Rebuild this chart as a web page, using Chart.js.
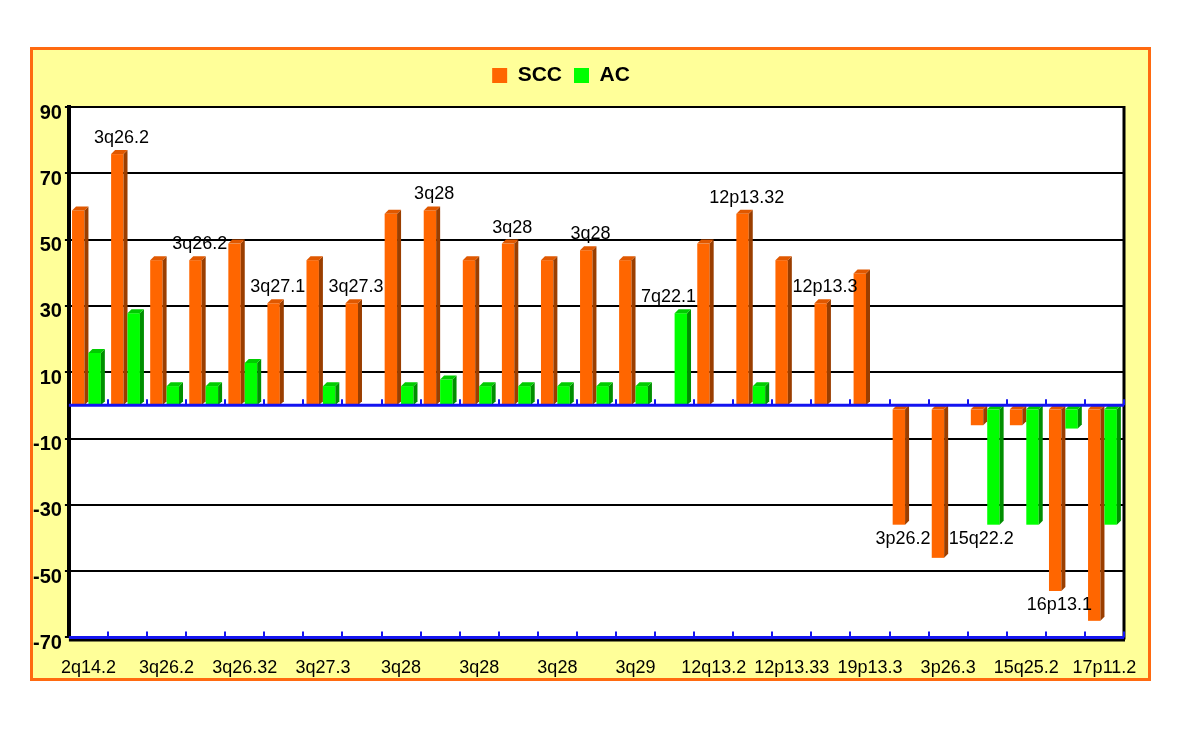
<!DOCTYPE html>
<html>
<head>
<meta charset="utf-8">
<script src="https://cdn.jsdelivr.net/npm/chart.js@4.4.1/dist/chart.umd.min.js"></script>
<style>
html,body{margin:0;padding:0;background:#ffffff;}
#wrap{width:1200px;height:733px;position:relative;}
</style>
</head>
<body>
<div id="wrap"><canvas id="c" width="1200" height="733"></canvas></div>
<script>
// ---- data ----
const categories = [
  '2q14.2','3q26.2','3q26.2','3q26.2','3q26.32','3q27.1','3q27.3','3q27.3',
  '3q28','3q28','3q28','3q28','3q28','3q28','3q29','7q22.1',
  '12q13.2','12p13.32','12p13.33','12p13.3','19p13.3','3p26.2','3p26.3',
  '15q22.2','15q25.2','16p13.1','17p11.2'
];
const sccValues = [60,77,45,45,50,32,45,32,59,60,45,50,45,48,45,0,50,59,45,32,41,-36,-46,-6,-6,-56,-65];
const acValues  = [17,29,7,7,14,0,7,0,7,9,7,7,7,7,7,29,0,7,0,0,0,0,0,-36,-36,-7,-36];
const seriesNames = ['SCC','AC'];
const yMin = -70, yMax = 90, yStep = 20;

// ---- styles ----
const faceColors = ['#FF6600','#00FF00'];
const sideColors = ['#9A3E00','#008F00'];
const capColors  = ['#E05800','#00CC00'];
const FONT = '"Liberation Sans", Arial, Helvetica, sans-serif';
const DEPTH = 4;

const framePlugin = {
  id: 'frame',
  beforeDraw(chart) {
    const ctx = chart.ctx, a = chart.chartArea;
    ctx.save();
    ctx.fillStyle = '#ffffff';
    ctx.fillRect(0, 0, chart.width, chart.height);
    ctx.fillStyle = '#FFFF99';
    ctx.fillRect(31, 48, 1119, 632);
    ctx.strokeStyle = '#FF6A10';
    ctx.lineWidth = 3;
    ctx.strokeRect(31.5, 48.5, 1118, 631);
    ctx.fillStyle = '#ffffff';
    ctx.fillRect(a.left, a.top, a.right - a.left, a.bottom - a.top);
    ctx.restore();
  }
};

const legendGapPlugin = {
  id: 'legendGap',
  beforeInit(chart) {
    const orig = chart.legend.fit;
    chart.legend.fit = function () {
      orig.call(this);
      this.height += 11;
    };
  },
  afterLayout(chart) {
    chart.legend.left -= 16;
    chart.legend.right -= 16;
  }
};

const bars3dPlugin = {
  id: 'bars3d',
  afterDatasetsDraw(chart) {
    const ctx = chart.ctx;
    const a = chart.chartArea;
    const ys = chart.scales.y, xs = chart.scales.x;
    const d = DEPTH;
    ctx.save();
    chart.data.datasets.forEach((ds, di) => {
      const meta = chart.getDatasetMeta(di);
      meta.data.forEach((el, i) => {
        const v = ds.data[i];
        if (!v) return;
        const p = el.getProps(['x','y','base','width'], true);
        const L = p.x - p.width / 2, R = p.x + p.width / 2;
        const top = Math.min(p.y, p.base), bottom = Math.max(p.y, p.base);
        // front face
        ctx.fillStyle = faceColors[di];
        ctx.fillRect(L, top + d, R - d - L, bottom - top - d);
        // side
        ctx.fillStyle = sideColors[di];
        ctx.beginPath();
        ctx.moveTo(R - d, top + d);
        ctx.lineTo(R, top);
        ctx.lineTo(R, bottom - d);
        ctx.lineTo(R - d, bottom);
        ctx.closePath();
        ctx.fill();
        // cap
        ctx.fillStyle = capColors[di];
        ctx.beginPath();
        ctx.moveTo(L, top + d);
        ctx.lineTo(L + d, top);
        ctx.lineTo(R, top);
        ctx.lineTo(R - d, top + d);
        ctx.closePath();
        ctx.fill();
      });
    });

    // zero line and bottom axis (blue) with upward ticks at category boundaries
    const y0 = ys.getPixelForValue(0);
    const n = categories.length;
    const step = (a.right - a.left) / n;
    ctx.strokeStyle = '#000000';
    ctx.lineWidth = 3;
    ctx.beginPath();
    ctx.moveTo(a.left, a.bottom + 2.5);
    ctx.lineTo(a.right + 1, a.bottom + 2.5);
    ctx.moveTo(a.right, a.top - 1);
    ctx.lineTo(a.right, a.bottom + 2);
    ctx.stroke();

    ctx.strokeStyle = '#1414F0';
    ctx.lineWidth = 3;
    ctx.beginPath();
    ctx.moveTo(a.left, y0);
    ctx.lineTo(a.right, y0);
    ctx.moveTo(a.left, a.bottom);
    ctx.lineTo(a.right, a.bottom);
    ctx.stroke();
    ctx.lineWidth = 2;
    ctx.beginPath();
    for (let k = 1; k <= n; k++) {
      const xx = Math.round(a.left + k * step);
      ctx.moveTo(xx, y0);
      ctx.lineTo(xx, y0 - 6);
      ctx.moveTo(xx, a.bottom);
      ctx.lineTo(xx, a.bottom - 6);
    }
    ctx.stroke();

    // data labels for odd categories
    ctx.fillStyle = '#000000';
    ctx.font = '18px ' + FONT;
    ctx.textAlign = 'center';
    ctx.textBaseline = 'middle';
    for (let i = 1; i < n; i += 2) {
      const hi = Math.max(sccValues[i], acValues[i], 0);
      const lo = Math.min(sccValues[i], acValues[i], 0);
      const x = xs.getPixelForValue(i) - 6;
      let y;
      if (hi > 0) y = ys.getPixelForValue(hi) - 12;
      else y = ys.getPixelForValue(lo) + 14;
      ctx.fillText(categories[i], x, y);
    }
    ctx.restore();
  }
};

new Chart(document.getElementById('c'), {
  type: 'bar',
  data: {
    labels: categories,
    datasets: [
      { label: seriesNames[0], data: sccValues, backgroundColor: 'rgba(0,0,0,0)', borderWidth: 0 },
      { label: seriesNames[1], data: acValues,  backgroundColor: 'rgba(0,0,0,0)', borderWidth: 0 }
    ]
  },
  options: {
    responsive: false,
    animation: false,
    devicePixelRatio: 1,
    layout: { padding: { left: 30, right: 76, top: 53, bottom: 42 } },
    datasets: { bar: { categoryPercentage: 0.84, barPercentage: 1.0 } },
    plugins: {
      tooltip: { enabled: false },
      legend: {
        display: true,
        position: 'top',
        labels: {
          boxWidth: 15,
          boxHeight: 15,
          padding: 12,
          color: '#000000',
          font: { family: FONT, size: 21, weight: 'bold' },
          generateLabels: (chart) => chart.data.datasets.map((ds, i) => ({
            text: ds.label, fillStyle: faceColors[i], strokeStyle: faceColors[i],
            lineWidth: 0, hidden: false, datasetIndex: i
          }))
        }
      }
    },
    scales: {
      x: {
        offset: true,
        grid: { display: false, offset: true },
        border: { display: false },
        ticks: {
          autoSkip: false,
          maxRotation: 0,
          minRotation: 0,
          padding: 12,
          color: '#000000',
          font: { family: FONT, size: 18 },
          callback: (val, idx) => (idx % 2 === 0 ? categories[idx] : '')
        }
      },
      y: {
        min: yMin,
        max: yMax,
        ticks: {
          stepSize: yStep,
          padding: 3,
          labelOffset: 6,
          color: '#000000',
          font: { family: FONT, size: 20, weight: 'bold' }
        },
        grid: { color: '#000000', lineWidth: 2, drawTicks: true, tickLength: 4, tickColor: '#000000' },
        border: { display: true, color: '#000000', width: 4 }
      }
    }
  },
  plugins: [framePlugin, legendGapPlugin, bars3dPlugin]
});
</script>
</body>
</html>
